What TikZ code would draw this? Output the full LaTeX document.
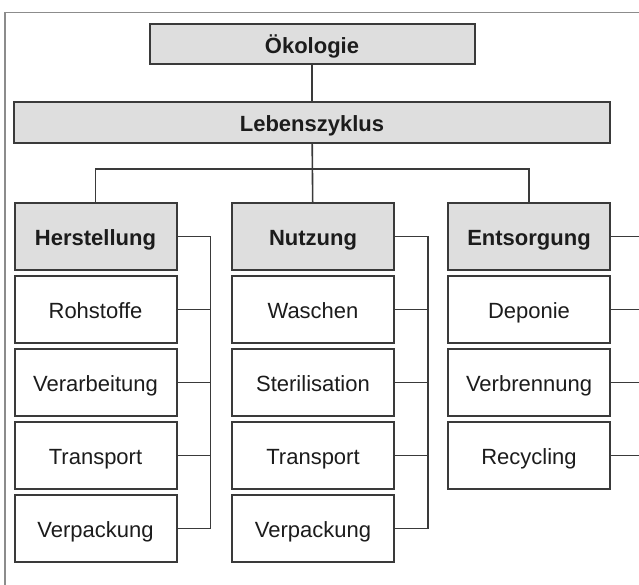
\documentclass[tikz,border=0pt]{standalone}
\usepackage{fontspec}
\setmainfont{Liberation Sans}
\definecolor{lcline}{RGB}{58, 58, 58}
\definecolor{lcframe}{RGB}{140, 140, 140}
\definecolor{lcgray}{RGB}{222, 222, 222}
\definecolor{lctext}{RGB}{28, 28, 28}
\usepackage{tikz}
\usetikzlibrary{positioning}

\begin{document}
\begin{tikzpicture}[x=1pt, y=-1pt, line width=1.6pt, color=lcline,
    every node/.style={font=\fontsize{22}{26}\selectfont, text=lctext, inner sep=0pt, text height=23.5pt, text depth=5pt},
    topbox/.style={draw, fill=lcgray, font=\fontsize{22}{26}\selectfont\bfseries, line width=2pt},
    headbox/.style={topbox, minimum width=162pt, minimum height=67pt},
    itembox/.style={draw, fill=white, line width=2pt, minimum width=162pt, minimum height=67pt}]
        \useasboundingbox (0,0) rectangle (639,584);
        \clip (0,0) rectangle (639,584);
        % frame
        \draw[lcframe, line width=1.2pt] (5,700) -- (5,12.7) -- (700,12.7);
        \node[topbox, minimum width=325pt, minimum height=40pt] (oeko) at (312,44) {Ökologie};
        \node[topbox, minimum width=596pt, minimum height=41pt] (leben) at (312,122.5) {Lebenszyklus};
        \draw (oeko) -- (leben);
        % three phases
        \node[headbox] (hers) at (95.5,236.5) {Herstellung};
        \node[headbox] (nutz) at (313,236.5) {Nutzung};
        \node[headbox] (ents) at (529,236.5) {Entsorgung};
        \coordinate (bus) at (313,169);
        \draw (leben) -- (nutz);
        \draw (hers) -- (hers |- bus) -- (ents |- bus) -- (ents);
        \foreach \txt [count=\i] in {Rohstoffe, Verarbeitung, Transport, Verpackung}
          \node[itembox] (h\i) at (95.5,236.5+73*\i) {\txt};
        \foreach \txt [count=\i] in {Waschen, Sterilisation, Transport, Verpackung}
          \node[itembox] (n\i) at (313,236.5+73*\i) {\txt};
        \foreach \txt [count=\i] in {Deponie, Verbrennung, Recycling}
          \node[itembox] (e\i) at (529,236.5+73*\i) {\txt};
        % brackets
        \draw (hers.east) -- ++(33,0) |- (h4.east);
        \foreach \i in {1,2,3} { \draw (h\i.east) -- ++(33,0); }
        \draw (nutz.east) -- ++(33,0) |- (n4.east);
        \foreach \i in {1,2,3} { \draw (n\i.east) -- ++(33,0); }
        \draw (ents.east) -- ++(33,0) |- (e3.east);
        \foreach \i in {1,2} { \draw (e\i.east) -- ++(33,0); }
\end{tikzpicture}
\end{document}
